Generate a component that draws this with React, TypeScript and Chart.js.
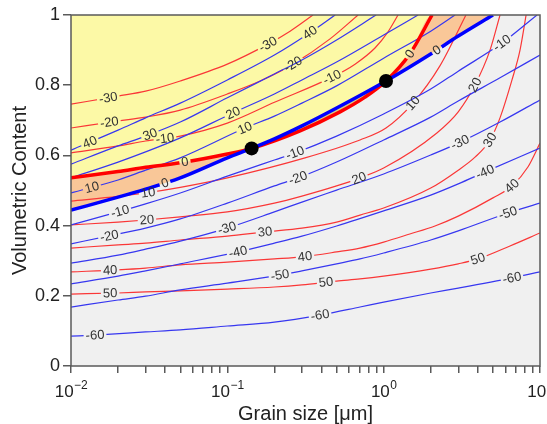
import React, { useEffect, useRef } from 'react';
import { Chart, registerables } from 'chart.js';

Chart.register(...registerables);

const FONT = "'Liberation Sans', Arial, Helvetica, sans-serif";
type P = [number, number];

// ---------- axis data ----------
const xMajorValues = [0.01, 0.1, 1, 10];
const xTickExponents = ['−2', '−1', '0', '1'];
const xMinorMultipliers = [2, 3, 4, 5, 6, 7, 8, 9];
const yTickStep = 0.2;

// ---------- red contour family: [grain size (µm), volumetric content] ----------
const redM30: P[] = [[0.01,0.746],[0.02,0.769],[0.03,0.783],[0.05,0.812],[0.1,0.860],[0.182,0.917],[0.252,0.954],[0.353,1.0]];
const redM20: P[] = [[0.01,0.678],[0.02,0.698],[0.03,0.709],[0.05,0.729],[0.1,0.775],[0.162,0.812],[0.263,0.860],[0.454,0.932],[0.686,1.0]];
const redM10: P[] = [[0.01,0.607],[0.02,0.627],[0.03,0.641],[0.05,0.655],[0.1,0.692],[0.202,0.752],[0.468,0.823],[0.656,0.860],[0.880,0.906],[1.066,0.952],[1.236,1.0]];
const red0: P[] = [[0.01,0.536],[0.02,0.554],[0.03,0.566],[0.05,0.579],[0.1,0.604],[0.143,0.620],[0.292,0.670],[0.526,0.724],[0.760,0.766],[1.035,0.812],[1.47,0.889],[2.04,1.0]];
const red10: P[] = [[0.01,0.470],[0.02,0.483],[0.03,0.493],[0.05,0.509],[0.1,0.536],[0.314,0.593],[0.706,0.644],[1.035,0.678],[1.52,0.746],[2.29,0.855],[3.36,1.0]];
const red20: P[] = [[0.01,0.402],[0.02,0.410],[0.03,0.416],[0.05,0.425],[0.1,0.439],[0.2,0.464],[0.3,0.484],[0.5,0.513],[0.706,0.536],[1.0,0.564],[2.19,0.664],[3.0,0.724],[3.84,0.801],[4.79,0.900],[5.55,1.0]];
const red30: P[] = [[0.01,0.336],[0.02,0.345],[0.03,0.350],[0.05,0.359],[0.1,0.370],[0.174,0.382],[0.3,0.393],[0.5,0.410],[0.706,0.430],[1.0,0.450],[2.0,0.507],[3.0,0.558],[3.84,0.595],[4.79,0.644],[5.55,0.707],[6.62,0.815],[7.45,0.900],[8.15,1.0]];
const red40: P[] = [[0.01,0.268],[0.02,0.274],[0.03,0.279],[0.05,0.288],[0.1,0.296],[0.2,0.305],[0.3,0.311],[0.5,0.325],[0.706,0.336],[1.0,0.353],[1.47,0.376],[2.13,0.399],[3.0,0.427],[5.0,0.479],[6.62,0.513],[8.37,0.567],[10,0.635]];
const red50: P[] = [[0.01,0.205],[0.02,0.208],[0.03,0.211],[0.05,0.214],[0.1,0.219],[0.2,0.225],[0.3,0.231],[0.5,0.242],[0.706,0.248],[1.0,0.256],[2.0,0.276],[3.0,0.291],[4.01,0.305],[6.43,0.342],[10,0.379]];

// ---------- blue contour family ----------
const blue40: P[] = [[0.01,0.615],[0.02,0.672],[0.03,0.707],[0.05,0.749],[0.1,0.815],[0.2,0.886],[0.328,0.946],[0.489,1.0]];
const blue30: P[] = [[0.01,0.575],[0.02,0.627],[0.03,0.655],[0.05,0.695],[0.1,0.764],[0.2,0.832],[0.3,0.872],[0.5,0.929],[0.894,1.0]];
const blue20: P[] = [[0.01,0.536],[0.02,0.581],[0.03,0.610],[0.05,0.650],[0.1087,0.721],[0.2,0.775],[0.3,0.815],[0.5,0.866],[1.0,0.943],[1.659,1.0]];
const blue10: P[] = [[0.01,0.493],[0.02,0.530],[0.03,0.558],[0.05,0.593],[0.1297,0.678],[0.2,0.712],[0.3,0.749],[0.5,0.798],[1.0,0.877],[2.0,0.954],[2.86,1.0]];
const blue0: P[] = [[0.01,0.444],[0.02,0.481],[0.03,0.504],[0.05,0.536],[0.1,0.593],[0.143,0.620],[0.2,0.647],[0.3,0.684],[0.5,0.735],[1.035,0.812],[2.0,0.889],[3.0,0.940],[5.0,1.0]];
const blueM10: P[] = [[0.01,0.402],[0.02,0.439],[0.03,0.462],[0.05,0.493],[0.1,0.541],[0.2,0.587],[0.271,0.607],[0.5,0.655],[1.0,0.718],[2.0,0.789],[3.0,0.840],[5.71,0.920],[9.57,1.0]];
const blueM20: P[] = [[0.01,0.348],[0.01725,0.370],[0.03,0.393],[0.05,0.419],[0.1,0.464],[0.2,0.513],[0.292,0.538],[0.5,0.581],[1.0,0.644],[2.0,0.709],[3.0,0.755],[5.55,0.821],[10,0.886]];
const blueM30: P[] = [[0.01,0.293],[0.02,0.316],[0.03,0.333],[0.05,0.356],[0.1,0.393],[0.2,0.439],[0.3,0.467],[0.5,0.501],[1.0,0.547],[2.0,0.601],[3.0,0.635],[5.55,0.695],[10,0.758]];
const blueM40: P[] = [[0.01,0.234],[0.02,0.256],[0.03,0.271],[0.05,0.291],[0.117,0.325],[0.2,0.350],[0.3,0.370],[0.5,0.399],[1.0,0.442],[2.0,0.487],[3.0,0.519],[4.45,0.553],[10,0.621]];
const blueM50: P[] = [[0.01,0.168],[0.02,0.188],[0.03,0.199],[0.05,0.217],[0.1,0.236],[0.2173,0.259],[0.3,0.271],[0.5,0.291],[0.706,0.305],[1.0,0.322],[2.0,0.359],[3.0,0.385],[6.24,0.436],[10,0.464]];
const blueM60: P[] = [[0.01,0.085],[0.01424,0.088],[0.03,0.097],[0.05,0.103],[0.1,0.114],[0.2,0.125],[0.392,0.145],[0.706,0.168],[1.0,0.182],[2.0,0.208],[3.0,0.222],[6.62,0.251],[10,0.268]];

// ---------- intersection points ----------
const dotX = [0.143, 1.035];
const dotY = [0.620, 0.812];

// ---------- contour label positions (grain size along each curve) ----------
const redCurves = [
  { text: '-30', pts: redM30, at: [0.0173, 0.182] },
  { text: '-20', pts: redM20, at: [0.0176, 0.263] },
  { text: '-10', pts: redM10, at: [0.0399, 0.467] },
  { text: '10', pts: red10, at: [0.0311, 1.54] },
  { text: '20', pts: red20, at: [0.0306, 0.695, 3.84] },
  { text: '30', pts: red30, at: [0.174, 4.79] },
  { text: '40', pts: red40, at: [0.0178, 0.314, 6.62] },
  { text: '50', pts: red50, at: [0.0178, 0.428, 4.01] },
];
const red0Labels = [0.0536, 1.47];
const blueCurves = [
  { text: '40', pts: blue40, at: [0.0132, 0.338] },
  { text: '30', pts: blue30, at: [0.032] },
  { text: '20', pts: blue20, at: [0.1087] },
  { text: '10', pts: blue10, at: [0.0136, 0.1297] },
  { text: '-10', pts: blueM10, at: [0.0206, 0.271, 5.71] },
  { text: '-20', pts: blueM20, at: [0.0176, 0.283] },
  { text: '-30', pts: blueM30, at: [0.0995, 3.08] },
  { text: '-40', pts: blueM40, at: [0.117, 4.45] },
  { text: '-50', pts: blueM50, at: [0.2173, 6.24] },
  { text: '-60', pts: blueM60, at: [0.01424, 0.392, 6.62] },
];
const blue0Labels = [0.0399, 2.19];

// ---------- styles ----------
const GREY_BG = 'rgb(240,240,240)';
const YELLOW = 'rgb(252,249,166)';
const ORANGE = 'rgb(249,199,152)';
const OLIVE = 'rgb(214,206,128)';
const RED_THIN = 'rgb(250,55,55)';
const BLUE_THIN = 'rgb(55,55,240)';
const LABEL_FONT = `13px ${FONT}`;

const toXY = (pts: P[]) => pts.map(([x, y]) => ({ x, y }));

function curvePoint(chart: any, dsIndex: number, xVal: number) {
  const meta = chart.getDatasetMeta(dsIndex);
  const pts = meta.data as any[];
  const px = chart.scales.x.getPixelForValue(xVal);
  const yAt = (qx: number): number | null => {
    try {
      const r = meta.dataset.interpolate({ x: qx }, 'x');
      const p = Array.isArray(r) ? r[0] : r;
      if (p && isFinite(p.y)) return p.y;
    } catch (e) { /* fall back */ }
    for (let i = 0; i < pts.length - 1; i++) {
      const a = pts[i], b = pts[i + 1];
      if (qx >= a.x && qx <= b.x) return a.y + (b.y - a.y) * (qx - a.x) / ((b.x - a.x) || 1);
    }
    return null;
  };
  const cy = yAt(px);
  if (cy == null) return null;
  const y1 = yAt(px - 2), y2 = yAt(px + 2);
  const ang = y1 != null && y2 != null ? Math.atan2(y2 - y1, 4) : 0;
  return { cx: px, cy, ang };
}

export default function App() {
  const ref = useRef<HTMLCanvasElement>(null);

  useEffect(() => {
    const canvas = ref.current;
    if (!canvas) return;

    const datasets: any[] = [];
    const labelSpecs: Record<number, { text: string; at: number[] }> = {};
    const base = { pointRadius: 0, fill: false, cubicInterpolationMode: 'monotone' };

    // fills
    datasets.push({ ...base, data: toXY(red0), fill: 'end', backgroundColor: YELLOW, borderWidth: 0, borderColor: 'transparent', order: 100 });
    const orangeIdx = datasets.length;
    datasets.push({ ...base, data: toXY([...red0, [blue0[blue0.length - 1][0], 1.0]]), borderWidth: 0, borderColor: 'transparent', order: 99 });

    // thin lines
    blueCurves.forEach((c) => {
      labelSpecs[datasets.length] = { text: c.text, at: c.at };
      datasets.push({ ...base, data: toXY(c.pts), borderColor: BLUE_THIN, borderWidth: 1.2, order: 50 });
    });
    redCurves.forEach((c) => {
      labelSpecs[datasets.length] = { text: c.text, at: c.at };
      datasets.push({ ...base, data: toXY(c.pts), borderColor: RED_THIN, borderWidth: 1.2, order: 50 });
    });
    // thick zero lines
    labelSpecs[datasets.length] = { text: '0', at: red0Labels };
    datasets.push({ ...base, data: toXY(red0), borderColor: '#ff0000', borderWidth: 3.5, order: 10 });
    const blue0Idx = datasets.length;
    labelSpecs[datasets.length] = { text: '0', at: blue0Labels };
    datasets.push({ ...base, data: toXY(blue0), borderColor: '#0000ff', borderWidth: 3.5, order: 9 });
    // dots
    datasets.push({
      data: dotX.map((x, i) => ({ x, y: dotY[i] })), showLine: false, pointRadius: 7,
      pointBackgroundColor: '#000', pointBorderWidth: 0, borderColor: '#000', order: 0,
    });
    datasets[orangeIdx].fill = { target: blue0Idx, above: ORANGE, below: OLIVE };

    const bgPlugin = {
      id: 'bgPlugin',
      beforeDraw(chart: any) {
        const { ctx, chartArea: a } = chart;
        ctx.save();
        ctx.fillStyle = GREY_BG;
        ctx.fillRect(a.left, a.top, a.right - a.left, a.bottom - a.top);
        ctx.restore();
      },
    };

    const labelPlugin = {
      id: 'contourLabels',
      beforeDatasetDraw(chart: any, args: any) {
        const spec = labelSpecs[args.index];
        if (!spec) return;
        const ctx = chart.ctx;
        ctx.save();
        ctx.font = LABEL_FONT;
        const w = ctx.measureText(spec.text).width + 4;
        const h = 11;
        ctx.beginPath();
        ctx.rect(0, 0, chart.width, chart.height);
        for (const at of spec.at) {
          const g = curvePoint(chart, args.index, at);
          if (!g) continue;
          const c = Math.cos(g.ang), s = Math.sin(g.ang);
          const corners = [[-w / 2, -h / 2], [w / 2, -h / 2], [w / 2, h / 2], [-w / 2, h / 2]];
          corners.forEach(([dx, dy], k) => {
            const X = g.cx + dx * c - dy * s;
            const Y = g.cy + dx * s + dy * c;
            if (k === 0) ctx.moveTo(X, Y); else ctx.lineTo(X, Y);
          });
          ctx.closePath();
        }
        ctx.clip('evenodd');
      },
      afterDatasetDraw(chart: any, args: any) {
        if (labelSpecs[args.index]) chart.ctx.restore();
      },
      afterDatasetsDraw(chart: any) {
        const ctx = chart.ctx;
        ctx.save();
        ctx.font = LABEL_FONT;
        ctx.fillStyle = '#333';
        ctx.textAlign = 'center';
        ctx.textBaseline = 'middle';
        Object.keys(labelSpecs).forEach((k) => {
          const idx = Number(k);
          const spec = labelSpecs[idx];
          for (const at of spec.at) {
            const g = curvePoint(chart, idx, at);
            if (!g) continue;
            ctx.save();
            ctx.translate(g.cx, g.cy);
            ctx.rotate(g.ang);
            ctx.fillText(spec.text, 0, 0.5);
            ctx.restore();
          }
        });
        ctx.restore();
      },
    };

    const framePlugin = {
      id: 'framePlugin',
      afterDraw(chart: any) {
        const { ctx, chartArea: a } = chart;
        ctx.save();
        ctx.strokeStyle = '#5a5a5a';
        ctx.lineWidth = 1.5;
        ctx.strokeRect(a.left, a.top, a.right - a.left, a.bottom - a.top);
        // x tick labels: 10 with superscript exponent
        const xs = chart.scales.x;
        ctx.fillStyle = '#222';
        ctx.textAlign = 'left';
        ctx.textBaseline = 'alphabetic';
        xMajorValues.forEach((v, i) => {
          const px = xs.getPixelForValue(v);
          ctx.font = `17px ${FONT}`;
          const w1 = ctx.measureText('10').width;
          ctx.font = `12px ${FONT}`;
          const w2 = ctx.measureText(xTickExponents[i]).width;
          const start = px - (w1 + w2) / 2;
          ctx.font = `17px ${FONT}`;
          ctx.fillText('10', start, a.bottom + 31);
          ctx.font = `12px ${FONT}`;
          ctx.fillText(xTickExponents[i], start + w1 + 0.5, a.bottom + 23);
        });
        ctx.restore();
      },
    };

    const chart = new Chart(canvas, {
      type: 'line',
      data: { datasets },
      options: {
        animation: false,
        responsive: false,
        devicePixelRatio: 1,
        layout: { padding: { left: 0, right: 40, top: 15, bottom: 0 } },
        elements: { line: { cubicInterpolationMode: 'monotone' } as any },
        plugins: {
          legend: { display: false },
          tooltip: { enabled: false },
          filler: { drawTime: 'beforeDatasetsDraw' } as any,
        },
        scales: {
          x: {
            type: 'logarithmic',
            min: 0.01,
            max: 10,
            afterBuildTicks: (s: any) => {
              const t: any[] = [];
              xMajorValues.forEach((m, i) => {
                t.push({ value: m });
                if (i < xMajorValues.length - 1) xMinorMultipliers.forEach((k) => t.push({ value: m * k }));
              });
              s.ticks = t;
            },
            ticks: { display: false },
            grid: { drawOnChartArea: false, drawTicks: true, tickLength: 7, color: '#5a5a5a', lineWidth: 1.5 },
            border: { display: false },
            title: {
              display: true, text: 'Grain size [μm]', color: '#222',
              font: { family: FONT, size: 20, lineHeight: 1 }, padding: { top: 0, bottom: 0 },
            },
            afterFit: (s: any) => { s.height = 58; s.paddingLeft = 0; s.paddingRight = 0; },
          } as any,
          y: {
            type: 'linear',
            min: 0,
            max: 1,
            ticks: {
              stepSize: yTickStep, color: '#222', font: { family: FONT, size: 18 }, padding: 3,
              callback: (v: any) => String(Number(Number(v).toFixed(1))),
            },
            grid: { drawOnChartArea: false, drawTicks: true, tickLength: 8, color: '#5a5a5a', lineWidth: 1.5 },
            border: { display: false },
            title: {
              display: true, text: 'Volumetric Content', color: '#222',
              font: { family: FONT, size: 20, lineHeight: 1.2 }, padding: { top: 8, bottom: 0 },
            },
            afterFit: (s: any) => { s.width = 71; s.paddingTop = 0; s.paddingBottom = 0; },
          } as any,
        },
      },
      plugins: [bgPlugin, labelPlugin, framePlugin],
    } as any);

    return () => chart.destroy();
  }, []);

  return (
    <div style={{ position: 'fixed', left: 0, top: 0, width: 547, height: 424, overflow: 'hidden', background: '#fff' }}>
      <canvas ref={ref} width={580} height={424} style={{ display: 'block', width: 580, height: 424 }} />
    </div>
  );
}
